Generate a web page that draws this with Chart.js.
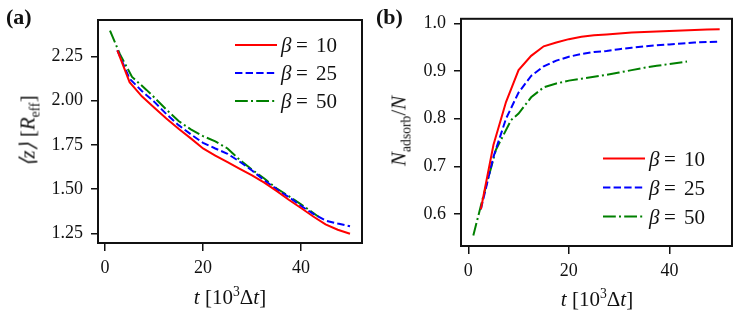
<!DOCTYPE html>
<html>
<head>
<meta charset="utf-8">
<script src="https://cdn.jsdelivr.net/npm/chart.js@4.4.1/dist/chart.umd.min.js"></script>
<style>
  body { margin: 0; background: #fff; }
  #wrap { position: relative; width: 748px; height: 319px; font-family: "Liberation Serif", serif; color: #111; }
  .panel { position: absolute; top: 0; width: 374px; height: 319px; }
  .lbl { position: absolute; white-space: nowrap; font-size: 21px; line-height: 1; transform: translate(-50%, -50%); }
  .rot { transform: translate(-50%, -50%) rotate(-90deg); }
  .tag { position: absolute; font-size: 22px; font-weight: bold; line-height: 1; }
  sub, sup { font-size: 65%; line-height: 0; }
</style>
</head>
<body>
<div id="wrap">
  <div class="panel" style="left:0"><canvas id="chartA"></canvas></div>
  <div class="panel" style="left:374px"><canvas id="chartB"></canvas></div>
  <div class="tag" style="left:6px;top:6px">(a)</div>
  <div class="tag" style="left:376px;top:6px">(b)</div>
  <div class="lbl rot" style="left:28px;top:131px"><i>⟨z⟩</i> [<i>R</i><sub>eff</sub>]</div>
  <div class="lbl" style="left:230px;top:297px"><i>t</i> [10<sup>3</sup>Δ<i>t</i>]</div>
  <div class="lbl rot" style="left:399px;top:131px"><i>N</i><sub>adsorb</sub>/<i>N</i></div>
  <div class="lbl" style="left:597px;top:299px"><i>t</i> [10<sup>3</sup>Δ<i>t</i>]</div>
</div>
<script>
// time axis, in units of 10^3 dt
const tRB = [2.5, 5, 7.5, 10, 12.5, 15, 17.5, 20, 22.5, 25, 27.5, 30, 32.5, 35, 37.5, 40, 42.5, 45, 47.5, 50];
const tGreen = [1, 3, 5.5, 8.5, 10, 12.5, 15, 17.5, 20, 22.5, 25, 27.5, 30, 32.5, 35, 37.5, 40, 43.5];
const betas = [10, 25, 50];

// (a) mean height <z>
const zRed = [2.285, 2.105, 2.025, 1.962, 1.9, 1.842, 1.787, 1.73, 1.69, 1.652, 1.615, 1.578, 1.537, 1.49, 1.44, 1.393, 1.345, 1.3, 1.27, 1.247];
const zBlue = [2.285, 2.125, 2.055, 1.995, 1.925, 1.862, 1.81, 1.762, 1.73, 1.70, 1.655, 1.605, 1.55, 1.5, 1.455, 1.405, 1.36, 1.322, 1.305, 1.29];
const zGreen = [2.397, 2.265, 2.135, 2.06, 2.02, 1.95, 1.885, 1.838, 1.80, 1.77, 1.73, 1.665, 1.61, 1.56, 1.505, 1.46, 1.414, 1.345];

// (b) adsorbed fraction
const nRed = [0.61, 0.745, 0.835, 0.902, 0.932, 0.952, 0.96, 0.967, 0.972, 0.975, 0.977, 0.979, 0.981, 0.982, 0.983, 0.984, 0.985, 0.986, 0.987, 0.988];
const nBlue = [0.61, 0.72, 0.80, 0.855, 0.89, 0.91, 0.922, 0.93, 0.936, 0.94, 0.942, 0.946, 0.949, 0.952, 0.954, 0.956, 0.958, 0.96, 0.961, 0.962];
const nGreen = [0.555, 0.638, 0.735, 0.797, 0.811, 0.845, 0.866, 0.874, 0.88, 0.884, 0.888, 0.892, 0.897, 0.902, 0.907, 0.911, 0.915, 0.92];

const xTicks = [0, 20, 40];
const yTicksA = [1.25, 1.5, 1.75, 2.0, 2.25];
const yTicksB = [0.6, 0.7, 0.8, 0.9, 1.0];

const colors = ['#ff0000', '#0000ff', '#008000'];
const dashes = [[], [7.4, 3.2], [12.8, 3.2, 2, 3.2]];
const serif = '"Liberation Serif", serif';

const pts = (xs, ys) => xs.map((x, i) => ({ x: x, y: ys[i] }));

function series(ys) {
  const xs = [tRB, tRB, tGreen];
  return ys.map((y, i) => ({
    label: 'β = ' + betas[i],
    data: pts(xs[i], y),
    borderColor: colors[i],
    borderDash: dashes[i],
    borderWidth: 2,
    pointRadius: 0,
    tension: 0,
    fill: false
  }));
}

// box round the plot area plus a legend in mathtext style
const frame = {
  id: 'frame',
  afterDatasetsDraw(chart, args, opts) {
    const ctx = chart.ctx, a = chart.chartArea;
    ctx.save();
    ctx.strokeStyle = '#111';
    ctx.lineWidth = 2;
    ctx.strokeRect(a.left, a.top, a.right - a.left, a.bottom - a.top);

    const n = chart.data.datasets.length;
    const x0 = a.right - opts.right;
    chart.data.datasets.forEach((ds, i) => {
      const y = opts.top ? a.top + opts.first + i * opts.gap
                         : a.bottom - opts.first - (n - 1 - i) * opts.gap;
      ctx.strokeStyle = ds.borderColor;
      ctx.lineWidth = 2;
      ctx.setLineDash(ds.borderDash);
      ctx.beginPath();
      ctx.moveTo(x0, y);
      ctx.lineTo(x0 + 42, y);
      ctx.stroke();
      ctx.setLineDash([]);
      ctx.fillStyle = '#111';
      ctx.textBaseline = 'alphabetic';
      ctx.font = 'italic 21px ' + serif;
      ctx.fillText('β', x0 + 46, y + 7);
      ctx.font = '21px ' + serif;
      ctx.fillText('=', x0 + 61, y + 7);
      ctx.fillText(String(betas[i]), x0 + 81, y + 7);
    });
    ctx.restore();
  }
};

function options(cfg) {
  const tickFont = { family: serif, size: 18 };
  return {
    responsive: false,
    animation: false,
    layout: { padding: { top: cfg.padTop, right: cfg.padRight, left: 0, bottom: 0 } },
    plugins: {
      legend: { display: false },
      tooltip: { enabled: false },
      frame: cfg.legend
    },
    scales: {
      x: {
        type: 'linear',
        min: -1.45,
        max: 52.45,
        afterBuildTicks: s => { s.ticks = xTicks.map(v => ({ value: v })); },
        afterFit: s => { s.height = cfg.xHeight; },
        grid: { drawOnChartArea: false, tickLength: 8, color: '#111', lineWidth: 1.5 },
        border: { display: false },
        ticks: { font: tickFont, color: '#111', padding: 6, maxRotation: 0,
                 callback: v => String(v) }
      },
      y: {
        min: cfg.yMin,
        max: cfg.yMax,
        afterBuildTicks: s => { s.ticks = cfg.yTicks.map(v => ({ value: v })); },
        afterFit: s => { s.width = cfg.yWidth; },
        grid: { drawOnChartArea: false, tickLength: 7, color: '#111', lineWidth: 1.5 },
        border: { display: false },
        ticks: { font: tickFont, color: '#111', padding: 8,
                 callback: v => v.toFixed(cfg.digits) }
      }
    }
  };
}

function makeCanvas(id) {
  const c = document.getElementById(id);
  c.width = 374;
  c.height = 319;
  return c;
}

new Chart(makeCanvas('chartA'), {
  type: 'line',
  data: { datasets: series([zRed, zBlue, zGreen]) },
  options: options({
    padTop: 20, padRight: 12, xHeight: 76, yWidth: 98,
    yMin: 1.195, yMax: 2.457, yTicks: yTicksA, digits: 2,
    legend: { top: true, first: 25, gap: 28, right: 127 }
  }),
  plugins: [frame]
});

new Chart(makeCanvas('chartB'), {
  type: 'line',
  data: { datasets: series([nRed, nBlue, nGreen]) },
  options: options({
    padTop: 16, padRight: 16, xHeight: 73, yWidth: 87,
    yMin: 0.533, yMax: 1.0097, yTicks: yTicksB, digits: 1,
    legend: { top: false, first: 29.5, gap: 29, right: 129 }
  }),
  plugins: [frame]
});
</script>
</body>
</html>
